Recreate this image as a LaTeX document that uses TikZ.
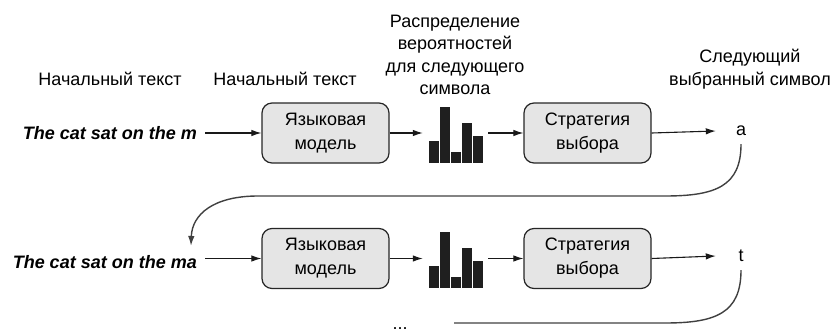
\documentclass[tikz,border=0pt]{standalone}
\usepackage{fontspec}
\setmainfont{Liberation Sans}
\usetikzlibrary{arrows.meta}
\begin{document}
\begin{tikzpicture}[x=1pt,y=-1pt,
  lbl/.style={font=\fontsize{18}{22.5}\selectfont, align=center, inner sep=0pt},
  inp/.style={font=\fontsize{18}{22}\selectfont\bfseries\itshape, inner sep=0pt, anchor=east},
  blk/.style={draw=black!85, line width=1.2pt, fill=black!10, rounded corners=10pt,
     minimum width=127pt, minimum height=60pt, align=center, inner sep=0pt,
     font=\fontsize{18}{24}\selectfont},
  sym/.style={font=\fontsize{18}{22}\selectfont, minimum width=50pt, inner sep=0pt},
  hst/.style={minimum width=65pt, minimum height=57pt, inner sep=0pt},
  bar/.style={fill=black!88, draw=white, line width=0.6pt},
  arr/.style={-{Latex[length=10pt,width=6.5pt]}, line width=1.1pt, black!90},
  loop/.style={line width=1.4pt, black!75}
]
\useasboundingbox (0,0) rectangle (837,332);

% top labels
\node[lbl] (l1) at (110,79) {Начальный текст};
\node[lbl] (l2) at (285,79) {Начальный текст};
\node[lbl] (l3) at (455,55) {Распределение\\вероятностей\\для следующего\\символа};
\node[lbl] (l4) at (750,69) {Следующий\\выбранный символ};

% row 1
\node[inp] (t1) at (197,133) {The cat sat on the m};
\node[blk] (m1) at (325.5,133) {Языковая\\модель};
\node[hst] (h1) at (455.5,134.5) {};
\node[blk] (s1) at (587.5,133) {Стратегия\\выбора};
\node[sym] (c1) at (741,131) {a};

% row 2
\node[inp] (t2) at (197,262) {The cat sat on the ma};
\node[blk] (m2) at (325.5,258.5) {Языковая\\модель};
\node[hst] (h2) at (455.5,259.5) {};
\node[blk] (s2) at (587.5,258.5) {Стратегия\\выбора};
\node[sym] (c2) at (741,256) {t};

% ellipsis at the bottom edge
\node[font=\fontsize{18}{22}\selectfont, inner sep=0pt, text height=3pt, text depth=0pt, anchor=base] (dots) at (400,329.5) {...};

% histograms
\foreach \h in {h1,h2}{
  \path (\h.south west) ++(5,0) coordinate (\h b);
  \fill[bar] (\h b) rectangle ++(11,-23);
  \fill[bar] ([xshift=11]\h b) rectangle ++(11,-57);
  \fill[bar] ([xshift=22]\h b) rectangle ++(11,-12);
  \fill[bar] ([xshift=33]\h b) rectangle ++(11,-41);
  \fill[bar] ([xshift=44]\h b) rectangle ++(11,-28);
}

% row arrows
\draw[arr] ([xshift=8]t1.east) -- (m1.west);
\draw[arr] (m1.east) -- (m1.east -| h1.west);
\draw[arr] (s1.west -| h1.east) -- (s1.west);
\draw[arr] (s1.east) -- (c1.west);

\draw[arr] ([xshift=8]t2.east |- m2.west) -- (m2.west);
\draw[arr] (m2.east) -- (m2.east -| h2.west);
\draw[arr] (s2.west -| h2.east) -- (s2.west);
\draw[arr] (s2.east) -- (c2.west);

% feedback curves
\coordinate (e1) at (191,246);
\draw[loop, -{Latex[length=10pt,width=6.5pt]}] ([yshift=-8]c1.south) .. controls (741,186) and (716,196) .. (665,196)
   -- (258,196) .. controls (214,196) and (192,214) .. (e1);
\coordinate (e2) at (454,323);
\draw[loop] ([yshift=-8]c2.south) .. controls (741,313) and (716,323) .. (665,323) -- (e2);
\end{tikzpicture}
\end{document}
